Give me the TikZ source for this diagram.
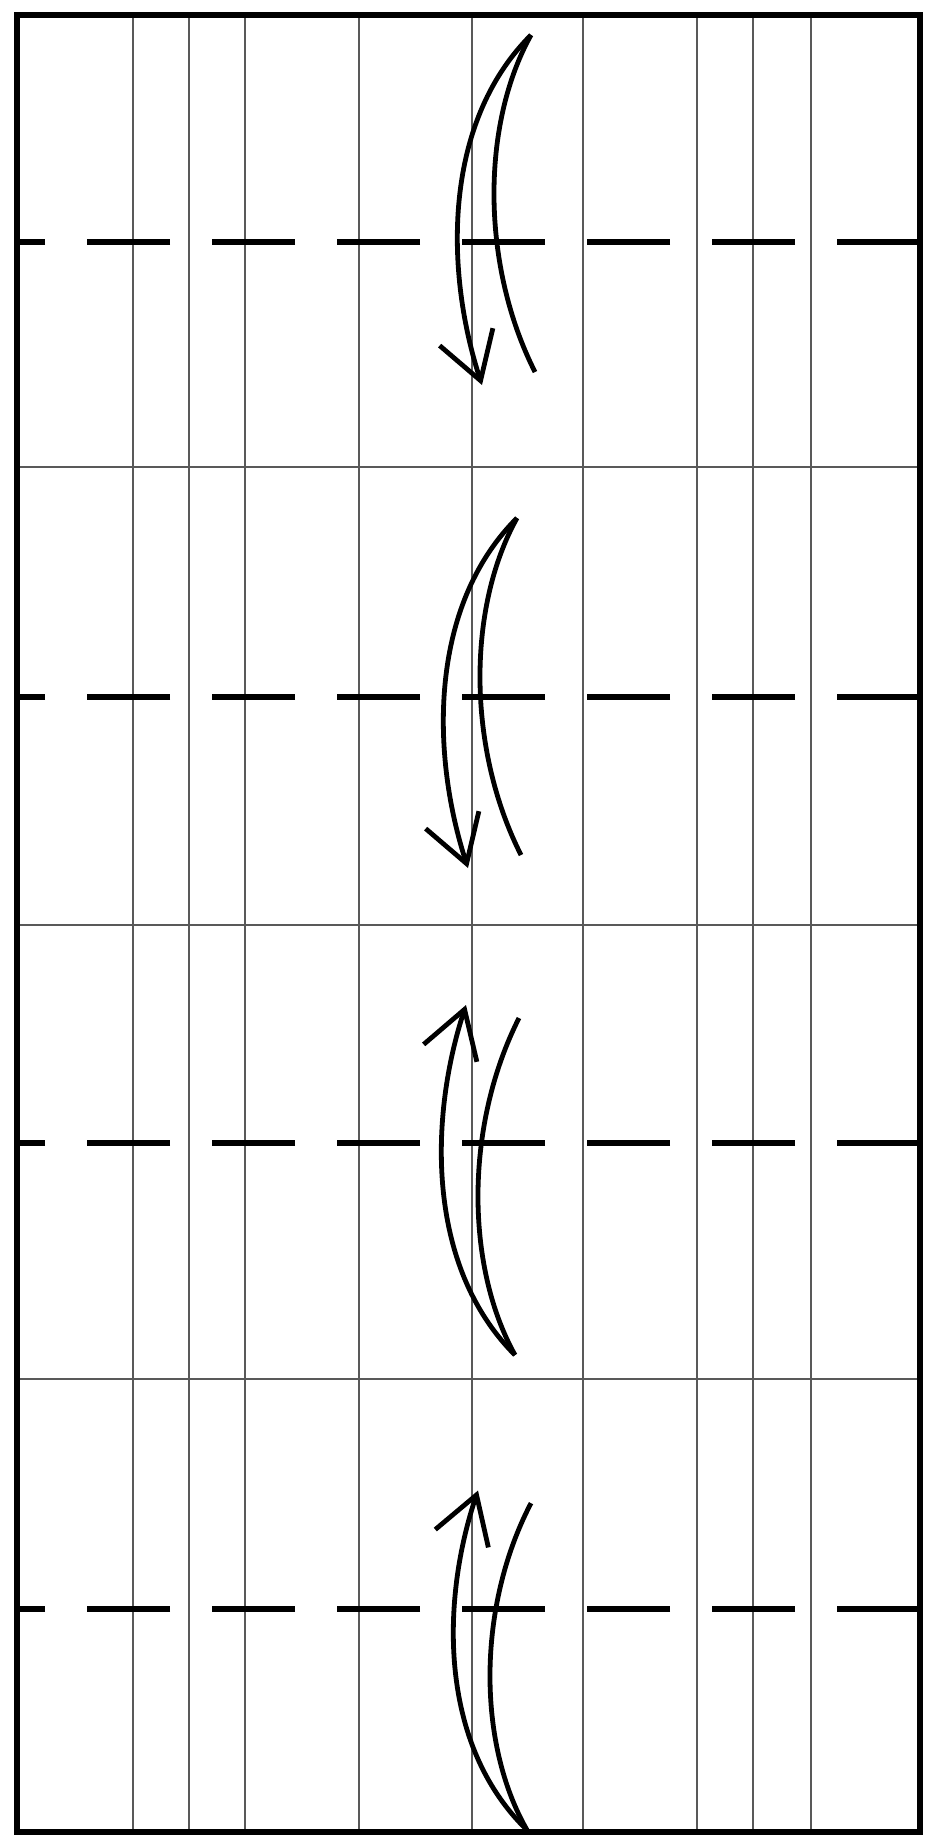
\documentclass[tikz,border=0pt]{standalone}
\usetikzlibrary{arrows.meta}
\begin{document}
\begin{tikzpicture}[x=0.5pt, y=-0.5pt,
  grid/.style={line width=0.75pt, black!65},
  foldline/.style={line width=2.8pt, dash pattern=on 41.5pt off 21pt},
  crease/.style={line width=2.4pt},
  turn/.style={line width=2.4pt, -{Straight Barb[length=23pt, width=28pt]}}]
  \useasboundingbox (0,0) rectangle (928,1836);
  % vertical strips
  \foreach \x in {133,189,245,359,472,583,697,753,811}
    \draw[grid] (\x,15) -- (\x,1832);
  % panel borders
  \foreach \y in {467,925,1379}
    \draw[grid] (17,\y) -- (920,\y);
  % fold lines, drawn from the right edge
  \foreach \y in {242,697,1143,1609}
    \draw[foldline] (920,\y) -- (17,\y);
  % turn-over arrows
  \foreach \tx/\ty/\s in {531/35/1, 517/518/1, 515/1355/-1, 527/1830/-0.97} {
    \begin{scope}[shift={(\tx,\ty)}, yscale=\s]
      \coordinate (tip) at (0,0);
      \coordinate (head) at (-49,350);
      \coordinate (tail) at (4,337);
      \draw[crease] (tip) .. controls (-50,90) and (-50,230) .. (tail);
      \draw[turn] (tip) .. controls (-90,90) and (-85,240) .. (head);
    \end{scope}
  }
  \draw[line width=2.8pt] (17,15) rectangle (920,1832);
\end{tikzpicture}
\end{document}
